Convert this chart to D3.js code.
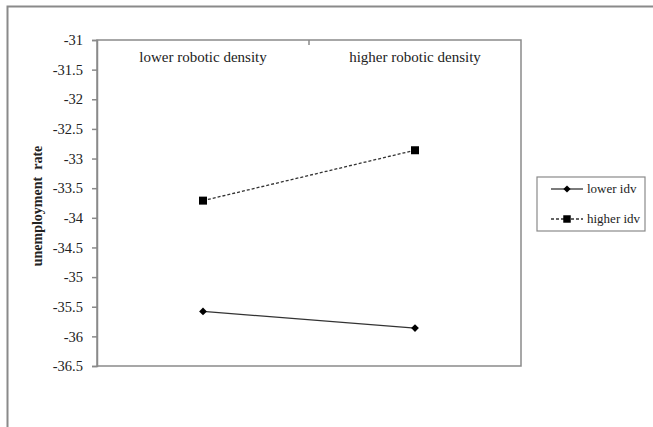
<!DOCTYPE html>
<html>
<head>
<meta charset="utf-8">
<script src="https://cdn.jsdelivr.net/npm/d3@7"></script>
<style>
  body { margin: 0; background: #fff; }
  svg text { font-family: "Liberation Serif", "Times New Roman", serif; fill: #222; }
</style>
</head>
<body>
<script>
var w = 653, h = 427;
var margin = {top: 40, right: 132, bottom: 61, left: 97};

var categories = ["lower robotic density", "higher robotic density"];
var seriesNames = ["lower idv", "higher idv"];
var lowerIdv = [-35.58, -35.86];
var higherIdv = [-33.71, -32.86];
var yTicks = [-31, -31.5, -32, -32.5, -33, -33.5, -34, -34.5, -35, -35.5, -36, -36.5];

var svg = d3.select("body").append("svg")
  .attr("width", w)
  .attr("height", h);

// outer frame
svg.append("path")
  .attr("d", "M7.5," + h + "V6.5H" + w)
  .style("fill", "none")
  .style("stroke", "#8a8a8a")
  .style("stroke-width", 2);

var x = d3.scalePoint()
  .domain(categories)
  .range([margin.left, w - margin.right])
  .padding(0.5);

var y = d3.scaleLinear()
  .domain([-36.5, -31])
  .range([h - margin.bottom, margin.top]);

// plot box
svg.append("rect")
  .attr("x", margin.left).attr("y", margin.top)
  .attr("width", w - margin.right - margin.left)
  .attr("height", h - margin.bottom - margin.top)
  .style("fill", "none")
  .style("stroke", "#8a8a8a")
  .style("stroke-width", 1.5);

// y axis
var yAxis = svg.append("g")
  .attr("transform", "translate(" + margin.left + ",0)")
  .call(d3.axisLeft(y).tickValues(yTicks).tickSize(5).tickPadding(9)
    .tickFormat(function(d) { return String(d); }));
yAxis.attr("font-family", null).attr("font-size", null);
yAxis.select(".domain").style("stroke", "#8a8a8a").style("stroke-width", 1.5);
yAxis.selectAll(".tick line").style("stroke", "#8a8a8a").style("stroke-width", 1.5);
yAxis.selectAll(".tick text")
  .style("font-size", "14.5px")
  .style("fill", "#222");

// center tick on top edge
svg.append("line")
  .attr("x1", (margin.left + w - margin.right) / 2).attr("x2", (margin.left + w - margin.right) / 2)
  .attr("y1", margin.top).attr("y2", margin.top + 5)
  .style("stroke", "#8a8a8a").style("stroke-width", 1.5);

// category labels
svg.selectAll(".cat")
  .data(categories)
  .enter().append("text")
  .attr("class", "cat")
  .attr("x", function(d) { return x(d); })
  .attr("y", 62)
  .attr("text-anchor", "middle")
  .style("font-size", "15px")
  .text(function(d) { return d; });

// axis title
svg.append("text")
  .attr("transform", "translate(42,206) rotate(-90)")
  .attr("text-anchor", "middle")
  .style("font-size", "14px")
  .style("font-weight", "bold")
  .style("white-space", "pre")
  .text("unemployment  rate");

var line = d3.line()
  .x(function(d, i) { return x(categories[i]); })
  .y(function(d) { return y(d); });

svg.append("path")
  .datum(higherIdv)
  .attr("d", line)
  .style("fill", "none")
  .style("stroke", "#333")
  .style("stroke-width", 1.3)
  .style("stroke-dasharray", "3,2");

svg.append("path")
  .datum(lowerIdv)
  .attr("d", line)
  .style("fill", "none")
  .style("stroke", "#333")
  .style("stroke-width", 1.3);

var sq = d3.symbol().type(d3.symbolSquare).size(64);
var dia = d3.symbol().type(d3.symbolSquare).size(30);

svg.selectAll(".sq")
  .data(higherIdv)
  .enter().append("path")
  .attr("class", "sq")
  .attr("d", sq)
  .attr("transform", function(d, i) { return "translate(" + x(categories[i]) + "," + y(d) + ")"; })
  .style("fill", "#000");

svg.selectAll(".dia")
  .data(lowerIdv)
  .enter().append("path")
  .attr("class", "dia")
  .attr("d", dia)
  .attr("transform", function(d, i) { return "translate(" + x(categories[i]) + "," + y(d) + ") rotate(45)"; })
  .style("fill", "#000");

// legend
var legend = svg.append("g").attr("transform", "translate(537,177)");
legend.append("rect")
  .attr("width", 108).attr("height", 54)
  .style("fill", "#fff")
  .style("stroke", "#8a8a8a")
  .style("stroke-width", 1.2);

var items = legend.selectAll(".item")
  .data(seriesNames)
  .enter().append("g")
  .attr("transform", function(d, i) { return "translate(0," + (12 + i * 30) + ")"; });

items.append("line")
  .attr("x1", 14).attr("x2", 46)
  .style("stroke", "#333")
  .style("stroke-width", 1.3)
  .style("stroke-dasharray", function(d, i) { return i === 1 ? "3,2" : null; });

items.append("path")
  .attr("d", function(d, i) { return d3.symbol().type(d3.symbolSquare).size(i === 1 ? 56 : 26)(); })
  .attr("transform", function(d, i) { return i === 1 ? "translate(30,0)" : "translate(30,0) rotate(45)"; })
  .style("fill", "#000");

items.append("text")
  .attr("x", 50)
  .attr("y", 4)
  .style("font-size", "13px")
  .text(function(d) { return d; });
</script>
</body>
</html>
